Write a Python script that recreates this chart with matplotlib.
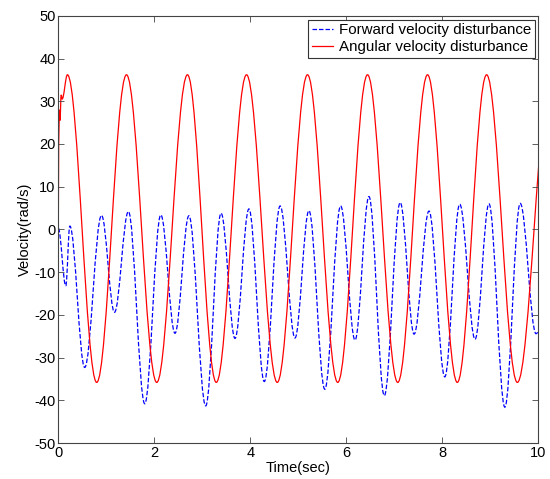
import matplotlib
matplotlib.use("Agg")
import matplotlib.pyplot as plt
from matplotlib.lines import Line2D
from matplotlib.patches import PathPatch
from matplotlib.path import Path

plt.rcParams["font.family"] = ["Liberation Sans", "DejaVu Sans"]
plt.rcParams["axes.unicode_minus"] = False

# turning points (time in s, value in rad/s)
ang_t = [0.0, 0.008, 0.022, 0.035, 0.06, 0.08, 0.19, 0.80, 1.42, 2.05, 2.69,
         3.29, 3.92, 4.56, 5.19, 5.82, 6.44, 7.07, 7.69, 8.31, 8.92, 9.56, 10.26]
ang_v = [0.0, 20.0, 28.0, 25.5, 31.5, 30.5, 36.2, -35.8, 36.2, -35.8, 36.2,
         -35.8, 36.2, -35.8, 36.2, -35.8, 36.2, -35.8, 36.2, -35.8, 36.2, -35.8, 36.2]

fwd_t = [0.0, 0.156, 0.24, 0.55, 0.90, 1.17, 1.46, 1.80, 2.135, 2.43, 2.72,
         3.07, 3.39, 3.68, 3.97, 4.29, 4.62, 4.93, 5.22, 5.55, 5.88, 6.18,
         6.47, 6.79, 7.12, 7.41, 7.72, 8.05, 8.36, 8.68, 8.97, 9.30, 9.62,
         9.95, 10.0]
fwd_v = [0.3, -13.2, 0.8, -32.3, 3.3, -19.4, 4.2, -40.8, 3.4, -24.3, 3.2,
         -41.3, 3.8, -25.5, 4.8, -35.6, 5.5, -25.4, 4.4, -37.4, 5.5, -25.9,
         7.7, -38.9, 6.3, -24.5, 4.3, -34.5, 5.9, -25.7, 6.0, -41.6, 6.1,
         -24.4, -24.0]

x_ticks = [0, 2, 4, 6, 8, 10]
y_ticks = [-50, -40, -30, -20, -10, 0, 10, 20, 30, 40, 50]


def smooth_path(ts, vs, k=0.363):
    """Bezier curve through turning points, flat tangent at each one."""
    verts, codes = [(ts[0], vs[0])], [Path.MOVETO]
    for i in range(1, len(ts)):
        dt = ts[i] - ts[i - 1]
        verts += [(ts[i - 1] + k * dt, vs[i - 1]), (ts[i] - k * dt, vs[i]), (ts[i], vs[i])]
        codes += [Path.CURVE4] * 3
    return Path(verts, codes)


fig = plt.figure(figsize=(5.5, 4.79), dpi=100)
ax = fig.add_axes([0.106, 0.075, 0.873, 0.892])

fwd_style = dict(color="#0000ff", lw=0.9, ls=(0, (3.6, 1.6)))
ang_style = dict(color="#ff0000", lw=0.9, ls="-")
ax.add_patch(PathPatch(smooth_path(fwd_t, fwd_v), fill=False, edgecolor=fwd_style["color"],
                       lw=fwd_style["lw"], ls=fwd_style["ls"]))
ax.add_patch(PathPatch(smooth_path(ang_t, ang_v), fill=False, edgecolor=ang_style["color"],
                       lw=ang_style["lw"], ls=ang_style["ls"]))

ax.set_xlim(0, 10)
ax.set_ylim(-50, 50)
ax.set_xticks(x_ticks)
ax.set_yticks(y_ticks)
ax.tick_params(direction="in", top=True, right=True, length=4, width=0.6,
               color="#444444", labelsize=10.5, pad=2)
for s in ax.spines.values():
    s.set_color("#444444")
    s.set_linewidth(0.8)
ax.set_xlabel("Time(sec)", fontsize=10.5, labelpad=1)
ax.set_ylabel("Velocity(rad/s)", fontsize=10.5, labelpad=2)

handles = [Line2D([], [], **fwd_style), Line2D([], [], **ang_style)]
leg = ax.legend(handles, ["Forward velocity disturbance", "Angular velocity disturbance"],
                loc="upper right", fontsize=10.9, fancybox=False, edgecolor="#333333",
                framealpha=1, handlelength=1.4, handletextpad=0.35, labelspacing=0.2,
                borderpad=0.25, borderaxespad=0.25)
leg.get_frame().set_linewidth(0.8)

fig.savefig("out.png", dpi=100)
